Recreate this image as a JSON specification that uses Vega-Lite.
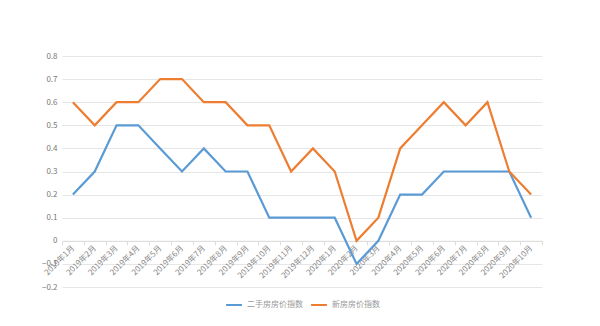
{
  "$schema": "https://vega.github.io/schema/vega-lite/v6.json",
  "width": 480,
  "height": 231,
  "autosize": {"type": "none"},
  "padding": {"left": 62, "top": 56, "right": 58, "bottom": 39},
  "background": "white",
  "config": {
    "view": {"stroke": null},
    "font": "Noto Sans CJK SC",
    "legend": {"layout": {"bottom": {"anchor": "middle"}}}
  },
  "data": {
    "values": [
      {"m": "2019年1月", "s": "二手房房价指数", "v": 0.2},
      {"m": "2019年2月", "s": "二手房房价指数", "v": 0.3},
      {"m": "2019年3月", "s": "二手房房价指数", "v": 0.5},
      {"m": "2019年4月", "s": "二手房房价指数", "v": 0.5},
      {"m": "2019年5月", "s": "二手房房价指数", "v": 0.4},
      {"m": "2019年6月", "s": "二手房房价指数", "v": 0.3},
      {"m": "2019年7月", "s": "二手房房价指数", "v": 0.4},
      {"m": "2019年8月", "s": "二手房房价指数", "v": 0.3},
      {"m": "2019年9月", "s": "二手房房价指数", "v": 0.3},
      {"m": "2019年10月", "s": "二手房房价指数", "v": 0.1},
      {"m": "2019年11月", "s": "二手房房价指数", "v": 0.1},
      {"m": "2019年12月", "s": "二手房房价指数", "v": 0.1},
      {"m": "2020年1月", "s": "二手房房价指数", "v": 0.1},
      {"m": "2020年2月", "s": "二手房房价指数", "v": -0.1},
      {"m": "2020年3月", "s": "二手房房价指数", "v": 0.0},
      {"m": "2020年4月", "s": "二手房房价指数", "v": 0.2},
      {"m": "2020年5月", "s": "二手房房价指数", "v": 0.2},
      {"m": "2020年6月", "s": "二手房房价指数", "v": 0.3},
      {"m": "2020年7月", "s": "二手房房价指数", "v": 0.3},
      {"m": "2020年8月", "s": "二手房房价指数", "v": 0.3},
      {"m": "2020年9月", "s": "二手房房价指数", "v": 0.3},
      {"m": "2020年10月", "s": "二手房房价指数", "v": 0.1},
      {"m": "2019年1月", "s": "新房房价指数", "v": 0.6},
      {"m": "2019年2月", "s": "新房房价指数", "v": 0.5},
      {"m": "2019年3月", "s": "新房房价指数", "v": 0.6},
      {"m": "2019年4月", "s": "新房房价指数", "v": 0.6},
      {"m": "2019年5月", "s": "新房房价指数", "v": 0.7},
      {"m": "2019年6月", "s": "新房房价指数", "v": 0.7},
      {"m": "2019年7月", "s": "新房房价指数", "v": 0.6},
      {"m": "2019年8月", "s": "新房房价指数", "v": 0.6},
      {"m": "2019年9月", "s": "新房房价指数", "v": 0.5},
      {"m": "2019年10月", "s": "新房房价指数", "v": 0.5},
      {"m": "2019年11月", "s": "新房房价指数", "v": 0.3},
      {"m": "2019年12月", "s": "新房房价指数", "v": 0.4},
      {"m": "2020年1月", "s": "新房房价指数", "v": 0.3},
      {"m": "2020年2月", "s": "新房房价指数", "v": 0.0},
      {"m": "2020年3月", "s": "新房房价指数", "v": 0.1},
      {"m": "2020年4月", "s": "新房房价指数", "v": 0.4},
      {"m": "2020年5月", "s": "新房房价指数", "v": 0.5},
      {"m": "2020年6月", "s": "新房房价指数", "v": 0.6},
      {"m": "2020年7月", "s": "新房房价指数", "v": 0.5},
      {"m": "2020年8月", "s": "新房房价指数", "v": 0.6},
      {"m": "2020年9月", "s": "新房房价指数", "v": 0.3},
      {"m": "2020年10月", "s": "新房房价指数", "v": 0.2}
    ]
  },
  "mark": {"type": "line", "strokeWidth": 2.2},
  "encoding": {
    "x": {
      "field": "m",
      "type": "ordinal",
      "sort": null,
      "scale": {"type": "band", "paddingInner": 0, "paddingOuter": 0},
      "axis": {
        "title": null,
        "offset": -46.2,
        "labelAngle": -45,
        "labelAlign": "right",
        "labelBaseline": "middle",
        "labelFontSize": 8,
        "labelColor": "#888888",
        "labelPadding": 2,
        "domainColor": "#dddddd",
        "tickColor": "#dddddd",
        "tickSize": 4,
        "tickBand": "extent",
        "grid": false
      }
    },
    "y": {
      "field": "v",
      "type": "quantitative",
      "scale": {"domain": [-0.2, 0.8], "nice": false},
      "axis": {
        "title": null,
        "values": [-0.2, -0.1, 0, 0.1, 0.2, 0.3, 0.4, 0.5, 0.6, 0.7, 0.8],
        "labelExpr": "datum.value === 0 ? '0' : format(datum.value, '.1f')",
        "domain": false,
        "ticks": false,
        "labelFontSize": 8,
        "labelColor": "#777777",
        "labelPadding": 5,
        "gridColor": "#e6e6e6",
        "gridWidth": 1
      }
    },
    "color": {
      "field": "s",
      "type": "nominal",
      "sort": ["二手房房价指数", "新房房价指数"],
      "scale": {"range": ["#5b9bd5", "#ed7d31"]},
      "legend": {
        "title": null,
        "orient": "bottom",
        "direction": "horizontal",
        "symbolType": "stroke",
        "symbolStrokeWidth": 2,
        "symbolSize": 250,
        "labelFontSize": 8,
        "labelColor": "#999999",
        "offset": 9,
        "columnPadding": 4
      }
    }
  }
}
